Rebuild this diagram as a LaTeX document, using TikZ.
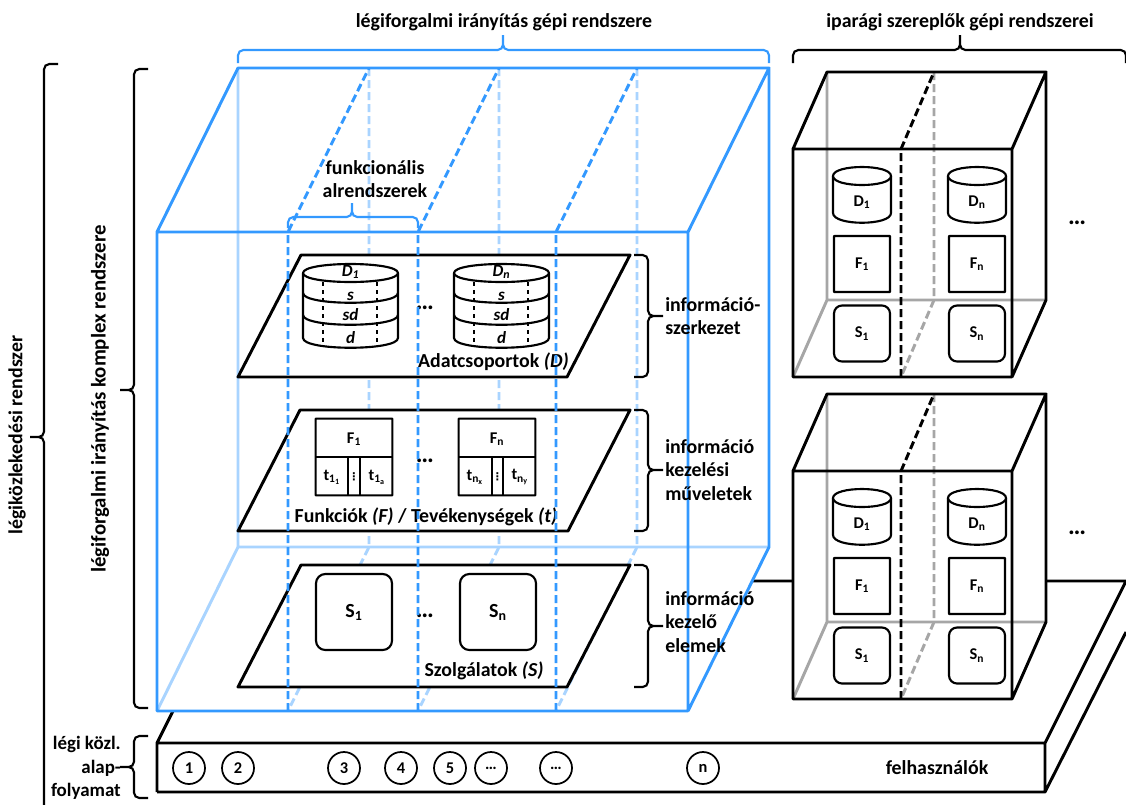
\documentclass[tikz,border=0pt]{standalone}
\usepackage{fontspec}
\setmainfont{Carlito}
\newfontfamily\symfont{DejaVu Sans}
\definecolor{atmblue}{HTML}{3399FF}
\definecolor{atmlight}{HTML}{A9D4FF}
\definecolor{backgray}{HTML}{A6A6A6}
\tikzset{
  lbl/.style={font=\bfseries\fontsize{14.9}{17.5}\selectfont,inner sep=0pt,align=center},
  sublbl/.style={font=\bfseries\fontsize{12.3}{14}\selectfont,inner sep=0pt},
  itlbl/.style={font=\bfseries\itshape\fontsize{12.8}{14}\selectfont,inner sep=0pt},
  dotslbl/.style={font=\bfseries\fontsize{19}{20}\selectfont,inner sep=0pt},
  vdotslbl/.style={font=\symfont\bfseries\fontsize{8}{8}\selectfont,inner sep=0pt},
  heavy/.style={line width=2.2pt,line join=round},
  shp/.style={line width=1.6pt,line join=round},
  plane/.style={heavy,fill=white},
  bluefront/.style={line width=2.2pt,atmblue,line join=round},
  blueback/.style={line width=2.2pt,atmlight},
  blued/.style={bluefront,dash pattern=on 6pt off 3pt},
  lightd/.style={blueback,dash pattern=on 6pt off 3pt},
  brc/.style={line width=1.6pt,rounded corners=4pt},
  svc/.style={draw,shp,rounded corners=7pt,minimum size=57pt,inner sep=0pt,fill=white,font=\bfseries\fontsize{15}{17}\selectfont},
  fbox/.style={draw,shp,rounded corners=0.3pt,minimum size=57.5pt,inner sep=0pt,fill=white},
  smallf/.style={draw,shp,rounded corners=0.3pt,minimum size=42pt,inner sep=0pt,fill=white,sublbl},
  smalls/.style={draw,shp,rounded corners=6pt,minimum size=42pt,inner sep=0pt,fill=white,sublbl},
  step1/.style={draw,line width=1.3pt,circle,minimum size=24pt,inner sep=0pt,font=\bfseries\fontsize{12.3}{14}\selectfont},
}
\newcommand{\drumtop}[3]{\draw[shp,fill=white] (#1,#3) .. controls (#1,#3-12) and (#2,#3-12) .. (#2,#3) .. controls (#2,#3+12) and (#1,#3+12) .. cycle;}
\newcommand{\drumrim}[3]{\draw[shp] (#1,#3) .. controls (#1,#3+13) and (#2,#3+13) .. (#2,#3);}
\begin{document}
\begin{tikzpicture}[x=0.75pt,y=-0.75pt]
  \clip (0,0) rectangle (1126,804);
  % platform
  \fill[white] (157,743) -- (238,581) -- (1126,581) -- (1126,632) -- (1045,792) -- (157,792) -- cycle;
  \draw[heavy] (157,792) -- (157,743) -- (238,581) -- (1126,581) (157,743) -- (1045,743) -- (1126,581) (157,792) -- (1045,792) -- (1126,632) (1045,743) -- (1045,792);
  \foreach \i/\x/\t in {a/189/1,b/238/2,c/344/3,d/401/4,e/450/5,f/491/…,g/556/…,h/703/n}{
    \node[step1] (step\i) at (\x,768) {\t};
  }
  \node[lbl] (users) at (937,768) {felhasználók};
  % big box, back side
  \fill[white] (157,232) -- (238,68) -- (769,68) -- (769,547) -- (688,711) -- (157,711) -- cycle;
  \draw[blueback] (238,68) -- (238,547) -- (769,547) (157,711) -- (238,547);
  \foreach \x in {369,499,637}{
    \draw[lightd] (\x,68) -- (\x,547) -- (\x-81,711);
  }
  % information structure
  \draw[plane] (238,377) -- (301,255) -- (630,255) -- (567,377) -- cycle;
  \foreach \n/\x/\t in {a/303/1,b/454/n}{
    \draw[shp,fill=white] (\x,273) -- (\x,338) .. controls (\x,351) and (\x+95,351) .. (\x+95,338) -- (\x+95,273);
    \drumtop{\x}{\x+95}{273}
    \drumrim{\x}{\x+95}{293}
    \drumrim{\x}{\x+95}{315}
    \draw[line width=1pt,dashed] (\x+20,282) -- (\x+20,346) (\x+74,282) -- (\x+74,346);
    \node[itlbl] (dt\n) at (\x+47.5,272) {D\textsubscript{\t}};
    \node[itlbl] (ds\n) at (\x+47.5,296) {s};
    \node[itlbl] (dsd\n) at (\x+47.5,315) {sd};
    \node[itlbl] (dd\n) at (\x+47.5,338) {d};
  }
  \node[dotslbl] (dotsd) at (425,308) {…};
  \node[lbl,anchor=east] (dname) at (569,362) {Adatcsoportok \textit{(D)}};
  % functions
  \draw[plane] (238,531) -- (300,410) -- (630,410) -- (568,531) -- cycle;
  \node[fbox] (fa) at (354,457) {};
  \node[fbox] (fb) at (497,457) {};
  \draw[shp] (315,457) -- (393,457) (348,457) -- (348,496) (360,457) -- (360,496);
  \draw[shp] (458,457) -- (536,457) (492,457) -- (492,496) (503,457) -- (503,496);
  \node[sublbl] (fat) at (354,439) {F\textsubscript{1}};
  \node[sublbl] (fbt) at (497,439) {F\textsubscript{n}};
  \node[sublbl] (ta) at (332,477) {t\textsubscript{1\textsubscript{1}}};
  \node[sublbl] (tb) at (377,477) {t\textsubscript{1\textsubscript{a}}};
  \node[sublbl] (tc) at (475,477) {t\textsubscript{n\textsubscript{x}}};
  \node[sublbl] (td) at (520,477) {t\textsubscript{n\textsubscript{y}}};
  \node[vdotslbl] (va) at (354,477) {⋮};
  \node[vdotslbl] (vb) at (497.5,477) {⋮};
  \node[dotslbl] (dotsf) at (425,461) {…};
  \node[lbl] (fname) at (426,517) {Funkciók \textit{(F)} / Tevékenységek \textit{(t)}};
  % services
  \draw[plane] (238,687) -- (301,565) -- (630,565) -- (567,687) -- cycle;
  \node[svc] (sa) at (354,612) {S\textsubscript{1}};
  \node[svc] (sb) at (498,612) {S\textsubscript{n}};
  \node[dotslbl] (dotss) at (425,616) {…};
  \node[lbl] (sname) at (484,671) {Szolgálatok \textit{(S)}};
  % big box, front side
  \draw[bluefront] (688,232) -- (157,232) -- (238,68) -- (769,68) -- (688,232) -- (688,711) -- (157,711) -- (157,232) (769,68) -- (769,547) -- (688,711);
  \foreach \x in {288,418,556}{
    \draw[blued] (\x,711) -- (\x,232) -- (\x+81,68);
  }
  % small boxes
  \foreach \n/\dy/\dots in {u/-322/223,l/0/533}{
    \begin{scope}[shift={(0,\dy)}]
      \fill[white] (793,471) -- (827,394) -- (1046,394) -- (1046,622) -- (1012,699) -- (793,699) -- cycle;
      \draw[heavy,backgray] (827,394) -- (827,622) -- (1046,622) (793,699) -- (827,622);
      \draw[heavy,backgray,dash pattern=on 6pt off 3pt] (934,394) -- (934,622) -- (901,699);
      \foreach \m/\x/\t in {a/833/1,b/948/n}{
        \draw[shp,fill=white] (\x,498) -- (\x,535) .. controls (\x,548) and (\x+58,548) .. (\x+58,535) -- (\x+58,498);
        \drumtop{\x}{\x+58}{498}
        \node[sublbl] (dr\n\m) at (\x+29,524) {D\textsubscript{\t}};
        \node[smallf] (fr\n\m) at (\x+29,586) {F\textsubscript{\t}};
        \node[smalls] (sr\n\m) at (\x+29,655.5) {S\textsubscript{\t}};
      }
      \draw[heavy] (1012,471) -- (793,471) -- (827,394) -- (1046,394) -- (1012,471) -- (1012,699) -- (793,699) -- (793,471) (1046,394) -- (1046,622) -- (1012,699);
      \draw[heavy,dash pattern=on 6pt off 3pt] (901,699) -- (901,471) -- (934,394);
    \end{scope}
    \node[dotslbl] (more\n) at (1077,\dots) {…};
  }
  % braces
  \draw[brc,atmblue] (238,63) |- (503,50) -- (503,35) (503,35) -- (503,50) -| (769,63);
  \draw[brc] (793,63) |- (960,50) -- (960,35) (960,35) -- (960,50) -| (1126,63);
  \draw[brc,atmblue] (288,228) |- (352,217) -- (352,203) (352,203) -- (352,217) -| (418,228);
  \draw[brc] (148,69) -| (134,390) -- (120,390) (120,390) -- (134,390) |- (148,708);
  \draw[brc] (58,64) -| (44,437) -- (30,437) (30,437) -- (44,437) -- (44,820);
  \draw[brc] (148,736) -| (134,767) -- (120,767) (120,767) -- (134,767) |- (148,798);
  \draw[brc] (634,255) -| (648,316) -- (663,316) (663,316) -- (648,316) |- (634,377);
  \draw[brc] (634,410) -| (648,470) -- (663,470) (663,470) -- (648,470) |- (634,531);
  \draw[brc] (634,565) -| (648,626) -- (663,626) (663,626) -- (648,626) |- (634,687);
  % labels
  \node[lbl] (atmname) at (504,22) {légiforgalmi irányítás gépi rendszere};
  \node[lbl] (indname) at (960,22) {iparági szereplők gépi rendszerei};
  \node[lbl] (subname) at (375,179) {funkcionális\\alrendszerek};
  \node[lbl,rotate=90,font=\bfseries\fontsize{15.6}{18}\selectfont] (cplxname) at (100,399) {légiforgalmi irányítás komplex rendszere};
  \node[lbl,rotate=90] (allname) at (17,435) {légiközlekedési rendszer};
  \node[lbl,align=right,anchor=east,font=\bfseries\fontsize{14.2}{17.5}\selectfont] (basename) at (121,768) {légi közl.\\alap-\\folyamat};
  \node[lbl,align=left,anchor=west] (infa) at (665,316) {információ-\\szerkezet};
  \node[lbl,align=left,anchor=west] (infb) at (665,470) {információ\\kezelési\\műveletek};
  \node[lbl,align=left,anchor=west] (infc) at (665,622) {információ\\kezelő\\elemek};
\end{tikzpicture}
\end{document}
